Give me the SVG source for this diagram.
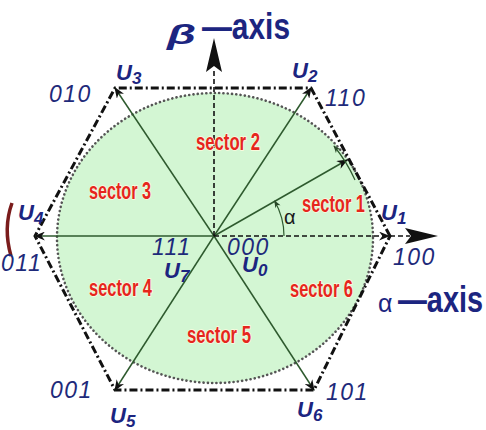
<svg xmlns="http://www.w3.org/2000/svg" width="486" height="430" viewBox="0 0 486 430">
<defs>
<marker id="ah" viewBox="0 0 10 8" refX="9" refY="4" markerWidth="11" markerHeight="9" markerUnits="userSpaceOnUse" orient="auto">
<path d="M0,0 L10,4 L0,8 L3,4 Z" fill="#111"/>
</marker>
<marker id="ahs" viewBox="0 0 10 8" refX="9" refY="4" markerWidth="8" markerHeight="6" markerUnits="userSpaceOnUse" orient="auto">
<path d="M0,0 L10,4 L0,8 L3,4 Z" fill="#2a4a2a"/>
</marker>
</defs>
<style>
.sec{font-family:"Liberation Sans",Arial,sans-serif;font-weight:bold;font-size:23px;fill:#e5261d;stroke:#fffbe0;stroke-width:1.5px;paint-order:stroke;}
.bin{font-family:"Liberation Sans",Arial,sans-serif;font-style:italic;font-size:23px;fill:#1e2a7a;letter-spacing:1.5px;}
.u{font-family:"Liberation Sans",Arial,sans-serif;font-style:italic;font-weight:bold;font-size:22px;fill:#1c2580;}
.sub{font-size:17px;}
.ax{font-family:"Liberation Sans",Arial,sans-serif;font-weight:bold;font-size:37px;fill:#1c2580;}
.vec{stroke:#2e5a2e;stroke-width:1.5;fill:none;}
.dash{stroke:#111;stroke-width:1.6;stroke-dasharray:5 3;fill:none;}
</style>
<g id="background">
<ellipse cx="215" cy="238" rx="158" ry="145" fill="#d3f6d3" stroke="#555" stroke-width="2.6" stroke-dasharray="0.1 4.2" stroke-linecap="round"/>
<path d="M12,203 Q3,228 11,256" fill="none" stroke="#7a1c1c" stroke-width="3.5"/>
</g>
<g id="hexagon">
<polygon points="390,236 311,88 115,88 35,236 115,390 314,390" fill="none" stroke="#111" stroke-width="3" stroke-dasharray="8 3 2 3"/>
</g>
<g id="connectors">
<line class="vec" x1="214" y1="236" x2="311" y2="88" marker-end="url(#ah)"/>
<line class="vec" x1="214" y1="236" x2="115" y2="88" marker-end="url(#ah)"/>
<line class="vec" x1="214" y1="236" x2="35" y2="236" marker-end="url(#ah)"/>
<line class="vec" x1="214" y1="236" x2="115" y2="390" marker-end="url(#ah)"/>
<line class="vec" x1="214" y1="236" x2="314" y2="390" marker-end="url(#ah)"/>
<line class="vec" x1="214" y1="236" x2="347" y2="160" marker-end="url(#ah)"/>
<line class="dash" x1="214" y1="236" x2="389" y2="236" marker-end="url(#ah)"/>
<line class="dash" x1="390" y1="236" x2="410" y2="236"/>
<line class="dash" x1="214" y1="236" x2="214" y2="68"/>
<polygon points="214,38 222,72 214,66 206,72" fill="#111"/>
<polygon points="438,236 405,228 411,236 405,244" fill="#111"/>
<path d="M284,236 A70,70 0 0 0 274.6,201" fill="none" stroke="#2e5a2e" stroke-width="1.2" marker-end="url(#ahs)"/>
<path d="M355,180 A152,152 0 0 0 334,146" fill="none" stroke="#2e5a2e" stroke-width="1.2" marker-end="url(#ahs)"/>
</g>
<g id="sectors">
<text class="sec" x="196" y="150" textLength="64" lengthAdjust="spacingAndGlyphs">sector 2</text>
<text class="sec" x="89" y="199" textLength="62" lengthAdjust="spacingAndGlyphs">sector 3</text>
<text class="sec" x="302" y="212" textLength="63" lengthAdjust="spacingAndGlyphs">sector 1</text>
<text class="sec" x="89" y="296" textLength="63" lengthAdjust="spacingAndGlyphs">sector 4</text>
<text class="sec" x="187" y="343" textLength="64" lengthAdjust="spacingAndGlyphs">sector 5</text>
<text class="sec" x="290" y="297" textLength="63" lengthAdjust="spacingAndGlyphs">sector 6</text>
</g>
<g id="alpha-label">
<text x="284" y="224" font-family="Liberation Sans, Arial, sans-serif" font-size="20" fill="#1a1a1a">α</text>
</g>
<g id="axis-beta">
<text x="167" y="44" font-family="Liberation Sans, Arial, sans-serif" font-style="italic" font-weight="bold" font-size="27" fill="#1c2580" textLength="29" lengthAdjust="spacingAndGlyphs">β</text>
<text class="ax" x="202" y="39" textLength="88" lengthAdjust="spacingAndGlyphs">—axis</text>
</g>
<g id="axis-alpha">
<text x="378" y="312" font-family="Liberation Sans, Arial, sans-serif" font-size="25" fill="#1c2580">α</text>
<text class="ax" x="398" y="312" textLength="85" lengthAdjust="spacingAndGlyphs">—axis</text>
</g>
<g id="U1"><text class="u" x="381" y="220">U<tspan class="sub" dy="4">1</tspan></text><text class="bin" x="393" y="265">100</text></g>
<g id="U2"><text class="u" x="292" y="78">U<tspan class="sub" dy="4">2</tspan></text><text class="bin" x="325" y="106">110</text></g>
<g id="U3"><text class="u" x="116" y="80">U<tspan class="sub" dy="4">3</tspan></text><text class="bin" x="49" y="102">010</text></g>
<g id="U4"><text class="u" x="18" y="220">U<tspan class="sub" dy="4">4</tspan></text><text class="bin" x="1" y="271">011</text></g>
<g id="U5"><text class="u" x="110" y="423">U<tspan class="sub" dy="4">5</tspan></text><text class="bin" x="50" y="398">001</text></g>
<g id="U6"><text class="u" x="297" y="417">U<tspan class="sub" dy="4">6</tspan></text><text class="bin" x="326" y="400">101</text></g>
<g id="U7"><text class="u" x="164" y="278">U<tspan class="sub" dy="4">7</tspan></text><text class="bin" x="152" y="255">111</text></g>
<g id="U0"><text class="u" x="242" y="272">U<tspan class="sub" dy="4">0</tspan></text><text class="bin" x="227" y="255">000</text></g>
</svg>
